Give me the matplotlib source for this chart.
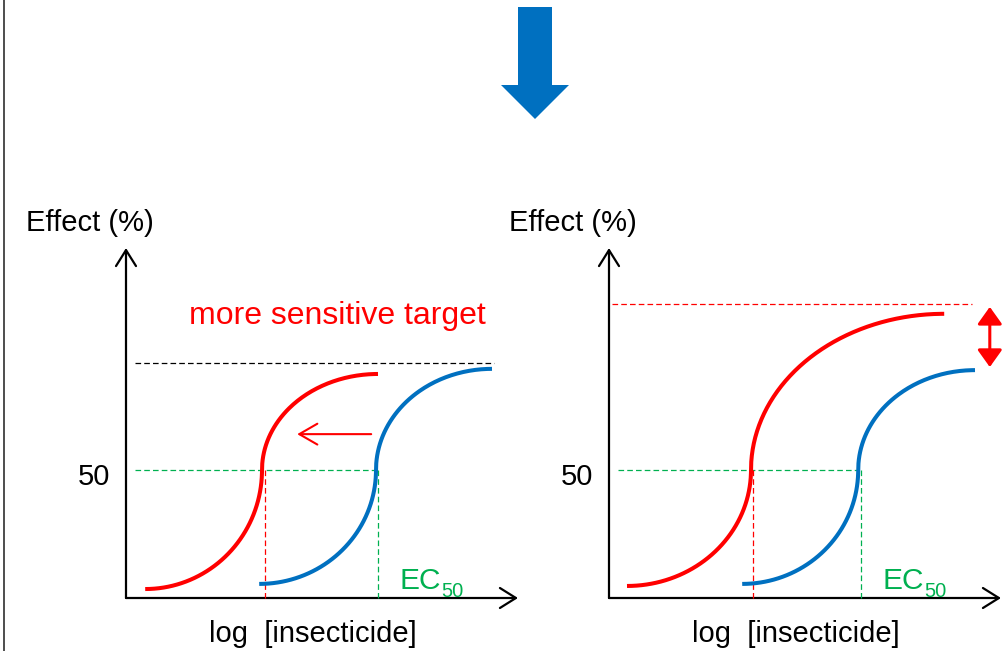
import numpy as np
import matplotlib
matplotlib.use("Agg")
import matplotlib.pyplot as plt
from matplotlib.patches import FancyArrowPatch, FancyArrow

plt.rcParams['font.family'] = ['Liberation Sans', 'DejaVu Sans']

# ---- data (x: log concentration units, y: effect %) ----
# each curve: start point, EC50 point, plateau end point
left_red = [(0.48, 3.5), (3.40, 50.0), (6.30, 87.5)]
left_blue = [(3.33, 5.5), (6.25, 50.0), (9.15, 89.5)]
right_red = [(0.45, 4.7), (3.55, 50.0), (8.38, 111.0)]
right_blue = [(3.33, 5.5), (6.23, 50.0), (9.15, 89.0)]

left_max_line = 91.8          # black dashed maximum (left)
right_max_line = 115.0        # red dashed maximum (right)
half_effect = 50
left_ec50_x = [3.47, 6.30]    # dashed verticals (red, blue)
right_ec50_x = [3.60, 6.30]

y_label = "Effect (%)"
x_label = "log  [insecticide]"
tick_label = "50"
note_text = "more sensitive target"

RED = '#FF0000'
BLUE = '#0070C0'
GREEN = '#00B050'

W, H = 1002, 651
fig = plt.figure(figsize=(W / 100, H / 100), dpi=100)

# background layer in pixel coordinates (decoration)
bg = fig.add_axes([0, 0, 1, 1])
bg.set_xlim(0, W)
bg.set_ylim(H, 0)
bg.axis('off')
bg.plot([4.5, 4.5], [0, H], color='#4d4d4d', lw=1.4)
bg.add_patch(FancyArrow(535, 7, 0, 112, width=34, head_width=68, head_length=34,
                        length_includes_head=True, color=BLUE, lw=0))

XMAX, YMAX = 9.8, 136.7


def sig_curve(start, mid, end, n=120):
    (x0, y0), (xm, ym), (x1, y1) = start, mid, end
    t = np.linspace(0, np.pi / 2, n)
    xa = x0 + (xm - x0) * np.sin(t)
    ya = ym - (ym - y0) * np.cos(t)
    xb = x1 - (x1 - xm) * np.cos(t)
    yb = ym + (y1 - ym) * np.sin(t)
    return np.concatenate([xa, xb]), np.concatenate([ya, yb])


def panel(left_px, red, blue, max_line, max_color, max_x, ec50_x, green_x0):
    ax = fig.add_axes([left_px / W, (H - 598) / H, 392 / W, 350 / H])
    ax.set_xlim(0, XMAX)
    ax.set_ylim(0, YMAX)
    ax.axis('off')
    # axes as arrows
    for xy0, xy1 in [((0, 0), (XMAX, 0)), ((0, 0), (0, YMAX))]:
        ax.add_patch(FancyArrowPatch(xy0, xy1, arrowstyle='->,head_length=1.15,head_width=0.72',
                                     mutation_scale=10, lw=1.6, color='black',
                                     shrinkA=0, shrinkB=0, clip_on=False))
    dash = dict(lw=0.9, dashes=(4.5, 2.5), clip_on=False)
    ax.plot(max_x, [max_line, max_line], color=max_color, **dash)
    ax.plot([green_x0, blue[1][0]], [half_effect, half_effect], color=GREEN, **dash)
    ax.plot([ec50_x[0], ec50_x[0]], [half_effect, -1.2], color=RED, **dash)
    ax.plot([ec50_x[1], ec50_x[1]], [half_effect, 0], color=GREEN, **dash)
    for c, col in [(red, RED), (blue, BLUE)]:
        x, y = sig_curve(*c)
        ax.plot(x, y, color=col, lw=2.9, solid_capstyle='butt', clip_on=False)
    ax.text(-0.9, 143.4, y_label, ha='center', va='baseline', fontsize=21)
    ax.text(-0.4, 44.1, tick_label, ha='right', va='baseline', fontsize=21)
    ax.text(4.675, -17.2, x_label, ha='center', va='baseline', fontsize=21)
    ax.text(6.83, 3.5, "EC", ha='left', va='baseline', fontsize=21.5, color=GREEN)
    ax.annotate("50", xy=(6.83, 3.5), xytext=(30.6, -5.8), textcoords='offset points',
                ha='left', va='baseline', fontsize=14.5, color=GREEN)
    return ax


ax1 = panel(126, left_red, left_blue, left_max_line, 'black', [0.22, 9.2], left_ec50_x, 0.22)
ax1.add_patch(FancyArrowPatch((6.13, 64), (4.28, 64), arrowstyle='->,head_length=1.3,head_width=0.75',
                              mutation_scale=10, lw=1.5, color=RED, shrinkA=0, shrinkB=0))
ax1.text(5.275, 110.0, note_text, ha='center', va='center', fontsize=23, color=RED)

ax2 = panel(609, right_red, right_blue, right_max_line, RED, [0.08, 9.08], right_ec50_x, 0.22)
ax2.add_patch(FancyArrowPatch((9.52, 90.2), (9.52, 113.7), arrowstyle='<|-|>,head_length=1.05,head_width=0.75',
                              mutation_scale=10, lw=2.2, color=RED, shrinkA=0, shrinkB=0, clip_on=False))

fig.savefig('out.png', dpi=100)
